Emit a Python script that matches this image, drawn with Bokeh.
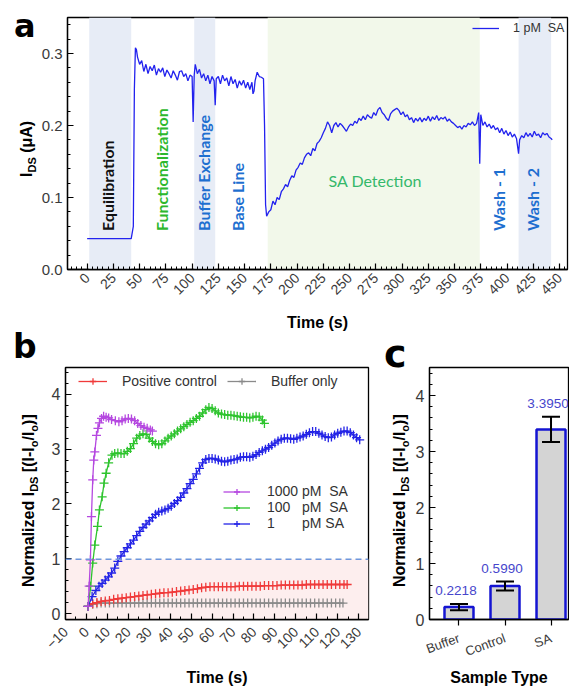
import math
from bokeh.plotting import figure
from bokeh.layouts import column, row
from bokeh.models import (Range1d, FixedTicker, Label, Legend, LegendItem, Div,
                          BoxAnnotation, Span, Whisker, ColumnDataSource, TeeHead,
                          PrintfTickFormatter)
from bokeh.embed import file_html
from bokeh.resources import INLINE

# ---------------- data: panel a ----------------
time_a = [0, 42, 44, 45, 46, 47, 48, 50, 52, 54, 56, 58, 60, 62, 64, 66, 68, 70, 72, 74,
          76, 78, 80, 82, 84, 86, 88, 90, 92, 94, 96, 98, 100, 101, 102, 103, 105, 107, 109, 111,
          113, 115, 117, 119, 121, 122, 123, 125, 127, 129, 131, 133, 135, 137, 139, 141, 143, 145, 147, 149,
          151, 153, 155, 157, 158, 159, 160, 162, 164, 166, 168, 169, 170, 171, 173, 175, 177, 179, 181, 183,
          185, 187, 189, 191, 193, 195, 197, 199, 201, 203, 205, 207, 209, 211, 213, 215, 217, 219, 221, 223,
          225, 227, 229, 231, 233, 235, 237, 239, 241, 243, 245, 247, 249, 251, 253, 255, 257, 259, 261, 263,
          265, 267, 269, 271, 273, 275, 277, 279, 281, 283, 285, 287, 289, 291, 293, 295, 297, 299, 301, 303,
          305, 307, 309, 311, 313, 315, 317, 319, 321, 323, 325, 327, 329, 331, 333, 335, 337, 339, 341, 343,
          345, 347, 349, 351, 353, 355, 357, 359, 361, 363, 365, 367, 369, 371, 373, 374, 375, 377, 379, 381,
          383, 385, 387, 389, 391, 393, 395, 397, 399, 401, 403, 405, 407, 409, 411, 412, 414, 416, 418, 420,
          422, 424, 426, 428, 430, 432, 434, 436, 438, 440, 442, 443]
ids_a = [0.043, 0.043, 0.060, 0.250, 0.308, 0.305, 0.295, 0.285, 0.290, 0.275, 0.285, 0.272, 0.282, 0.276, 0.284, 0.270, 0.279, 0.274, 0.280, 0.268,
         0.277, 0.272, 0.266, 0.276, 0.270, 0.263, 0.275, 0.276, 0.268, 0.272, 0.262, 0.270, 0.268, 0.205, 0.270, 0.285, 0.272, 0.278, 0.266, 0.272,
         0.262, 0.270, 0.258, 0.268, 0.262, 0.228, 0.265, 0.268, 0.258, 0.270, 0.262, 0.266, 0.255, 0.268, 0.258, 0.264, 0.252, 0.262, 0.256, 0.263,
         0.252, 0.260, 0.250, 0.260, 0.244, 0.248, 0.262, 0.274, 0.268, 0.267, 0.265, 0.200, 0.090, 0.074, 0.080, 0.083, 0.095, 0.090, 0.100, 0.097,
         0.108, 0.112, 0.118, 0.115, 0.124, 0.130, 0.128, 0.138, 0.142, 0.148, 0.146, 0.155, 0.160, 0.162, 0.158, 0.168, 0.165, 0.175, 0.178, 0.183,
         0.190, 0.196, 0.205, 0.200, 0.190, 0.200, 0.204, 0.198, 0.203, 0.200, 0.196, 0.192, 0.198, 0.202, 0.200, 0.206, 0.203, 0.210, 0.207, 0.213,
         0.208, 0.215, 0.212, 0.210, 0.218, 0.214, 0.222, 0.225, 0.218, 0.215, 0.210, 0.207, 0.216, 0.220, 0.222, 0.224, 0.221, 0.215, 0.219, 0.212,
         0.215, 0.208, 0.211, 0.204, 0.210, 0.206, 0.211, 0.205, 0.210, 0.207, 0.213, 0.206, 0.212, 0.208, 0.214, 0.207, 0.211, 0.209, 0.212, 0.206,
         0.209, 0.205, 0.203, 0.200, 0.197, 0.199, 0.195, 0.200, 0.198, 0.203, 0.201, 0.205, 0.200, 0.203, 0.218, 0.147, 0.215, 0.200, 0.205, 0.198,
         0.202, 0.196, 0.200, 0.194, 0.197, 0.190, 0.196, 0.188, 0.193, 0.186, 0.191, 0.184, 0.188, 0.182, 0.161, 0.180, 0.186, 0.183, 0.190, 0.185,
         0.189, 0.184, 0.192, 0.186, 0.188, 0.183, 0.190, 0.187, 0.189, 0.184, 0.182, 0.180]
phase_start = [2, 102, 172, 411]
phase_end = [42, 122, 374, 442]
phase_kind = ["blue", "blue", "green", "blue"]
phase_names = ["Equilibration", "Functionalization", "Buffer Exchange", "Base Line", "Wash - 1", "Wash - 2"]
xticks_a = [0, 25, 50, 75, 100, 125, 150, 175, 200, 225, 250, 275, 300, 325, 350, 375, 400, 425, 450]
yticks_a = [0.0, 0.1, 0.2, 0.3]

# ---------------- data: panel b ----------------
t_1000 = [0.8, 1.3, 1.9, 2.4, 3.0, 3.5, 4.0, 4.8, 5.5, 6.2, 7.2, 8.2, 9.4, 10.6, 12.0, 13.8, 15.5, 17.0, 18.5, 20.0,
          21.5, 23.0, 24.5, 26.0, 27.5, 29.0, 30.5, 31.5]
v_1000 = [0.13, 0.50, 0.98, 1.77, 2.44, 2.80, 2.95, 3.25, 3.38, 3.48, 3.56, 3.60, 3.58, 3.57, 3.54, 3.52, 3.50, 3.52, 3.55, 3.56,
          3.55, 3.52, 3.47, 3.43, 3.40, 3.38, 3.35, 3.33]
t_100 = [0.8, 2.0, 3.0, 4.0, 5.3, 6.2, 7.5, 8.4, 9.4, 10.6, 12.2, 13.5, 15.0, 16.5, 18.0, 19.5, 21.0, 22.5, 24.0, 25.5,
         27.0, 28.5, 30.0, 31.5, 33.0, 34.5, 36.0, 37.5, 39.0, 40.5, 42.0, 43.5, 45.0, 46.5, 48.0, 49.5, 51.0, 52.5, 54.0, 55.5,
         57.0, 58.5, 60.0, 61.5, 63.0, 64.5, 66.0, 67.5, 69.0, 70.5, 72.0, 73.5, 75.0, 76.5, 78.0, 79.5, 81.0, 82.5, 84.0, 85.0]
v_100 = [0.13, 0.50, 0.92, 1.25, 1.59, 1.89, 2.13, 2.38, 2.56, 2.75, 2.89, 2.92, 2.93, 2.92, 2.92, 2.96, 3.01, 3.10, 3.20, 3.25,
         3.28, 3.27, 3.20, 3.14, 3.10, 3.08, 3.10, 3.15, 3.20, 3.24, 3.28, 3.33, 3.37, 3.41, 3.45, 3.49, 3.52, 3.56, 3.60, 3.66,
         3.72, 3.76, 3.74, 3.70, 3.66, 3.64, 3.63, 3.62, 3.62, 3.61, 3.60, 3.59, 3.58, 3.58, 3.57, 3.58, 3.60, 3.59, 3.53, 3.47]
t_1 = [0.8, 2.7, 4.5, 6.0, 7.5, 9.0, 10.5, 12.0, 13.5, 15.0, 16.5, 18.0, 19.5, 21.0, 22.5, 24.0, 25.5, 27.0, 28.5, 30.0,
       31.5, 33.0, 34.5, 36.0, 37.5, 39.0, 40.5, 42.0, 43.5, 45.0, 46.5, 48.0, 49.5, 51.0, 52.5, 54.0, 55.5, 57.0, 58.5, 60.0,
       61.5, 63.0, 64.5, 66.0, 67.5, 69.0, 70.5, 72.0, 73.5, 75.0, 76.5, 78.0, 79.5, 81.0, 82.5, 84.0, 85.5, 87.0, 88.5, 90.0,
       91.5, 93.0, 94.5, 96.0, 97.5, 99.0, 100.5, 102.0, 103.5, 105.0, 106.5, 108.0, 109.5, 111.0, 112.5, 114.0, 115.5, 117.0, 118.5, 120.0,
       121.5, 123.0, 124.5, 126.0, 127.5, 129.0, 130.5]
v_1 = [0.13, 0.31, 0.42, 0.50, 0.55, 0.61, 0.67, 0.74, 0.83, 0.95, 1.05, 1.13, 1.20, 1.27, 1.34, 1.42, 1.50, 1.57, 1.63, 1.69,
       1.75, 1.81, 1.85, 1.87, 1.89, 1.92, 1.96, 2.01, 2.06, 2.12, 2.20, 2.28, 2.37, 2.45, 2.55, 2.65, 2.75, 2.81, 2.83, 2.83,
       2.82, 2.80, 2.78, 2.77, 2.78, 2.80, 2.81, 2.82, 2.85, 2.86, 2.86, 2.85, 2.87, 2.90, 2.94, 2.97, 3.00, 3.03, 3.07, 3.11,
       3.15, 3.18, 3.20, 3.20, 3.19, 3.18, 3.20, 3.22, 3.24, 3.27, 3.30, 3.32, 3.32, 3.29, 3.26, 3.23, 3.21, 3.22, 3.26, 3.29,
       3.31, 3.33, 3.33, 3.30, 3.26, 3.21, 3.17]
t_pos = [0.8, 3, 5, 7, 9, 11, 13, 15, 17, 19, 21, 23, 25, 27, 29, 31, 33, 35, 37, 39,
         41, 43, 45, 47, 49, 51, 53, 55, 57, 59, 61, 63, 65, 67, 69, 71, 73, 75, 77, 79,
         81, 83, 85, 87, 89, 91, 93, 95, 97, 99, 101, 103, 105, 107, 109, 111, 113, 115, 117, 119,
         121, 123, 124.5]
v_pos = [0.13, 0.18, 0.20, 0.22, 0.23, 0.24, 0.26, 0.27, 0.28, 0.29, 0.30, 0.31, 0.32, 0.33, 0.34, 0.35, 0.36, 0.37, 0.38, 0.38,
         0.39, 0.40, 0.41, 0.42, 0.43, 0.44, 0.45, 0.47, 0.48, 0.49, 0.49, 0.49, 0.49, 0.49, 0.49, 0.49, 0.50, 0.50, 0.50, 0.50,
         0.50, 0.50, 0.51, 0.51, 0.51, 0.51, 0.52, 0.52, 0.52, 0.52, 0.52, 0.52, 0.53, 0.53, 0.53, 0.53, 0.53, 0.53, 0.53, 0.53,
         0.53, 0.53, 0.53]
t_buf = [0.8, 3, 5, 7, 9, 11, 13, 15, 17, 19, 21, 23, 25, 27, 29, 31, 33, 35, 37, 39,
         41, 43, 45, 47, 49, 51, 53, 55, 57, 59, 61, 63, 65, 67, 69, 71, 73, 75, 77, 79,
         81, 83, 85, 87, 89, 91, 93, 95, 97, 99, 101, 103, 105, 107, 109, 111, 113, 115, 117, 119,
         121, 122.5]
v_buf = [0.13, 0.17, 0.18, 0.19, 0.19, 0.19, 0.19, 0.19, 0.19, 0.19, 0.19, 0.19, 0.19, 0.19, 0.19, 0.19, 0.19, 0.19, 0.19, 0.19,
         0.19, 0.19, 0.19, 0.19, 0.19, 0.19, 0.19, 0.19, 0.19, 0.19, 0.19, 0.19, 0.19, 0.19, 0.19, 0.19, 0.19, 0.19, 0.19, 0.19,
         0.19, 0.19, 0.19, 0.19, 0.19, 0.19, 0.19, 0.19, 0.19, 0.19, 0.19, 0.19, 0.19, 0.19, 0.19, 0.19, 0.19, 0.19, 0.19, 0.19,
         0.19, 0.19]
threshold_b = 0.99
xticks_b = [-10, 0, 10, 20, 30, 40, 50, 60, 70, 80, 90, 100, 110, 120, 130]
yticks_b = [0, 1, 2, 3, 4]

# ---------------- data: panel c ----------------
sample_types = ["Buffer", "Control", "SA"]
mean_c = [0.2218, 0.5990, 3.3950]
err_c = [0.055, 0.08, 0.225]
yticks_c = [0, 1, 2, 3, 4]

# ---------------- style ----------------
FONT = "Liberation Sans"
ANN = "Lato"
TICK_COLOR = "#3a3a3a"
SHADE = {"blue": "#e7ecf6", "green": "#f2f8ea"}


def mk_conv(fl, fr, ft, fb, xr, yr):
    def conv(px, py):
        x = xr[0] + (px - fl) / (fr - fl) * (xr[1] - xr[0])
        y = yr[0] + (fb - py) / (fb - ft) * (yr[1] - yr[0])
        return x, y
    return conv


def add_text(p, conv, px, py, text, size, color="black", style="bold", align="left",
             baseline="alphabetic", angle=0.0, font=FONT):
    x, y = conv(px, py)
    p.add_layout(Label(x=x, y=y, text=text, text_font=font, text_font_size=f"{size}px",
                       text_font_style=style, text_color=color, text_align=align,
                       text_baseline=baseline, angle=angle))


# ---- HTML side labels (panel letters and y-axis titles with subscripts) ----
def letter_html(ch, left, baseline, size):
    top = baseline - 0.846 * size
    return (f'<div style="position:absolute;left:{left}px;top:{top:.1f}px;'
            f"font-family:'DejaVu Sans';font-weight:bold;font-size:{size}px;"
            f'line-height:{size}px;color:#000;white-space:nowrap;">{ch}</div>')


def vtitle_html(inner, baseline_x, start_y, size=16):
    left = baseline_x - 0.8465 * size
    return (f'<div style="position:absolute;left:{left:.1f}px;top:{start_y}px;'
            f'transform:rotate(-90deg);transform-origin:0 0;'
            f"font-family:'Liberation Sans';font-weight:bold;font-size:{size}px;"
            f'line-height:{size}px;color:#000;white-space:nowrap;">{inner}</div>')


def side_div(w, h, parts):
    html = (f'<div style="position:relative;width:{w}px;height:{h}px;overflow:visible;">'
            + "".join(parts) + "</div>")
    return Div(text=html, width=w, height=h, margin=(0, 0, 0, 0))


SUB = '<sub style="font-size:11px;line-height:0;">{}</sub>'
ids_title = "I" + SUB.format("DS") + " (μA)"
norm_title = ("Normalized I" + SUB.format("DS") + " [(I-I" + SUB.format("o") + "/I"
              + SUB.format("o") + ")]")


def style(p):
    p.grid.visible = False
    p.outline_line_color = "black"
    p.outline_line_width = 1.3
    p.background_fill_color = "white"
    p.border_fill_color = "white"
    for ax in p.axis:
        ax.axis_label = None
        ax.axis_line_color = "black"
        ax.axis_line_width = 1.3
        ax.major_tick_line_color = "black"
        ax.minor_tick_line_color = "black"
        ax.major_tick_line_width = 1.2
        ax.minor_tick_line_width = 1.0
        ax.major_tick_in = 6
        ax.major_tick_out = 0
        ax.minor_tick_in = 3
        ax.minor_tick_out = 0
        ax.major_label_text_font = FONT
        ax.major_label_text_color = TICK_COLOR
        ax.axis_label_text_font = FONT
        ax.axis_label_text_font_style = "bold"
        ax.axis_label_text_color = "black"
        ax.axis_label_text_font_size = "16px"


SIDE_W = 38      # width of the left label strip (both rows)
LEFT_B = 27      # left border of panels a and b (frames start at x = 65)

# ---------------- panel a ----------------
XR_A = (-18.7, 457.6)
YR_A = (0, 0.35)
pa = figure(width=569 - SIDE_W, height=334, x_range=Range1d(*XR_A), y_range=Range1d(*YR_A),
            output_backend="svg", toolbar_location=None,
            min_border_left=LEFT_B, min_border_right=2, min_border_top=17, min_border_bottom=62)
style(pa)
conv_a = mk_conv(65, 567, 17, 272, XR_A, YR_A)

for s, e, k in zip(phase_start, phase_end, phase_kind):
    pa.add_layout(BoxAnnotation(left=s, right=e, fill_color=SHADE[k], fill_alpha=1.0,
                                line_color=None, level="underlay"))

ra = pa.line(time_a, ids_a, line_color="#2222ee", line_width=1.3)

pa.xaxis.ticker = FixedTicker(ticks=xticks_a, minor_ticks=[m for m in range(-15, 458, 5)])
pa.yaxis.ticker = FixedTicker(ticks=yticks_a, minor_ticks=[i * 0.02 for i in range(0, 18)])
pa.yaxis.formatter = PrintfTickFormatter(format="%.1f")
pa.xaxis.major_label_orientation = math.pi / 4
pa.xaxis.major_label_text_font_size = "14px"
pa.yaxis.major_label_text_font_size = "15px"
pa.xaxis.major_label_standoff = 6
pa.yaxis.major_label_standoff = 5
pa.xaxis.axis_label = "Time (s)"
pa.xaxis.axis_label_standoff = 12

leg_a = Legend(items=[LegendItem(label="1 pM  SA", renderers=[ra])], location=(405, 234),
               glyph_width=27, glyph_height=14, label_height=14, label_standoff=14,
               padding=0, margin=0, spacing=0, border_line_color=None, background_fill_alpha=0,
               label_text_font=FONT, label_text_font_size="12.5px", label_text_color="#333333")
pa.add_layout(leg_a)

name_x = [105, 159, 202, 236, 498, 532]
name_col = ["#111111", "#2db82d", "#1e6fd0", "#1e6fd0", "#1e6fd0", "#1e6fd0"]
for nm, nx, nc in zip(phase_names, name_x, name_col):
    add_text(pa, conv_a, nx, 233, nm, 16, color=nc, align="left", baseline="middle",
             angle=math.pi / 2, font=ANN)
add_text(pa, conv_a, 374, 182, "SA Detection", 16, color="#35b86a", style="normal",
         align="center", baseline="middle", font=ANN)

div_a = side_div(SIDE_W, 334, [letter_html("a", 14, 37, 32),
                               vtitle_html(ids_title, 32, 177)])

# ---------------- panel b ----------------
XR_B = (-10, 134.7)
YR_B = (-0.109, 4.49)
pb = figure(width=380 - SIDE_W, height=355, x_range=Range1d(*XR_B), y_range=Range1d(*YR_B),
            output_backend="svg", toolbar_location=None,
            min_border_left=LEFT_B, min_border_right=12, min_border_top=33, min_border_bottom=69)
style(pb)

pb.add_layout(BoxAnnotation(top=threshold_b, fill_color="#fdeeee", fill_alpha=1.0,
                            line_color=None, level="underlay"))
pb.add_layout(Span(location=threshold_b, dimension="width", line_color="#6f97dc",
                   line_width=1.5, line_dash="6 4"))


def series(p, t, v, col):
    l = p.line(t, v, line_color=col, line_width=1.3)
    m = p.scatter(t, v, marker="cross", size=9, line_color=col, line_width=1.3)
    return [l, m]


r_buf = series(pb, t_buf, v_buf, "#8a8a8a")
r_pos = series(pb, t_pos, v_pos, "#f03a3a")
r_1 = series(pb, t_1, v_1, "#2323e6")
r_100 = series(pb, t_100, v_100, "#2ec42e")
r_1000 = series(pb, t_1000, v_1000, "#b548e0")

pb.xaxis.ticker = FixedTicker(ticks=xticks_b, minor_ticks=[m for m in range(-10, 135, 5)])
pb.yaxis.ticker = FixedTicker(ticks=yticks_b, minor_ticks=[i * 0.2 for i in range(0, 23)])
pb.xaxis.major_label_orientation = math.pi / 4
pb.xaxis.major_label_text_font_size = "14px"
pb.yaxis.major_label_text_font_size = "16px"
pb.xaxis.major_label_standoff = 10
pb.yaxis.major_label_standoff = 5
pb.xaxis.axis_label = "Time (s)"
pb.xaxis.axis_label_standoff = 13

leg_b1 = Legend(items=[LegendItem(label="Positive control", renderers=r_pos),
                       LegendItem(label="Buffer only", renderers=r_buf)],
                location=(13, 230), orientation="horizontal",
                glyph_width=29, glyph_height=16, label_height=16, label_standoff=15,
                padding=0, margin=0, spacing=10, border_line_color=None, background_fill_alpha=0,
                label_text_font=FONT, label_text_font_size="14px", label_text_color="#333333")
leg_b2 = Legend(items=[LegendItem(label="1000 pM  SA", renderers=r_1000),
                       LegendItem(label="100   pM  SA", renderers=r_100),
                       LegendItem(label="1       pM SA", renderers=r_1)],
                location=(158, 88), orientation="vertical",
                glyph_width=27, glyph_height=15, label_height=15, label_standoff=17,
                padding=0, margin=0, spacing=0, border_line_color=None, background_fill_alpha=0,
                label_text_font=FONT, label_text_font_size="14px", label_text_color="#333333")
pb.add_layout(leg_b1)
pb.add_layout(leg_b2)

div_b = side_div(SIDE_W, 355, [letter_html("b", 13, 24, 33),
                               vtitle_html(norm_title, 34, 253)])

# ---------------- panel c ----------------
XR_C = (0.359, 3.38)
YR_C = (0, 4.5)
pc = figure(width=159, height=355, x_range=Range1d(*XR_C), y_range=Range1d(*YR_C),
            output_backend="svg", toolbar_location=None,
            min_border_left=19, min_border_right=1, min_border_top=33, min_border_bottom=69)
style(pc)

xpos_c = [i + 1 for i in range(len(sample_types))]
pc.vbar(x=xpos_c, top=mean_c, width=0.63, bottom=0, fill_color="#d4d4d4",
        line_color="#1414d2", line_width=2.5)
src_c = ColumnDataSource(dict(x=xpos_c,
                              upper=[m + e for m, e in zip(mean_c, err_c)],
                              lower=[m - e for m, e in zip(mean_c, err_c)]))
pc.add_layout(Whisker(base="x", upper="upper", lower="lower", source=src_c,
                      line_color="black", line_width=2, level="overlay",
                      upper_head=TeeHead(size=18, line_width=2, line_color="black"),
                      lower_head=TeeHead(size=18, line_width=2, line_color="black")))
for xp, m, e in zip(xpos_c, mean_c, err_c):
    pc.add_layout(Label(x=xp, y=m + e, x_offset=-3, y_offset=13, text=f"{m:.4f}",
                        text_align="center", text_baseline="middle", text_font=FONT,
                        text_font_size="13.5px", text_color="#4646cc"))

pc.xaxis.ticker = FixedTicker(ticks=xpos_c)
pc.xaxis.major_label_overrides = {xp: nm for xp, nm in zip(xpos_c, sample_types)}
pc.xaxis.major_tick_in = 0
pc.xaxis.major_tick_out = 6
pc.xaxis.minor_tick_in = 0
pc.xaxis.minor_tick_out = 0
pc.xaxis.major_label_orientation = 0.35
pc.xaxis.major_label_text_font_size = "13px"
pc.xaxis.major_label_standoff = 12
pc.xaxis.axis_label = "Sample Type"
pc.xaxis.axis_label_text_font_size = "16px"
pc.xaxis.axis_label_standoff = 0
pc.yaxis.ticker = FixedTicker(ticks=yticks_c, minor_ticks=[i * 0.2 for i in range(0, 23)])
pc.yaxis.major_label_text_font_size = "16px"
pc.yaxis.major_label_standoff = 5

div_c = side_div(30, 355, [letter_html("c", 4, 33, 38),
                           vtitle_html(norm_title, 25, 253)])

layout = column(row(div_a, pa), row(div_b, pb, div_c, pc))
open("out.html", "w").write(file_html(layout, INLINE))
